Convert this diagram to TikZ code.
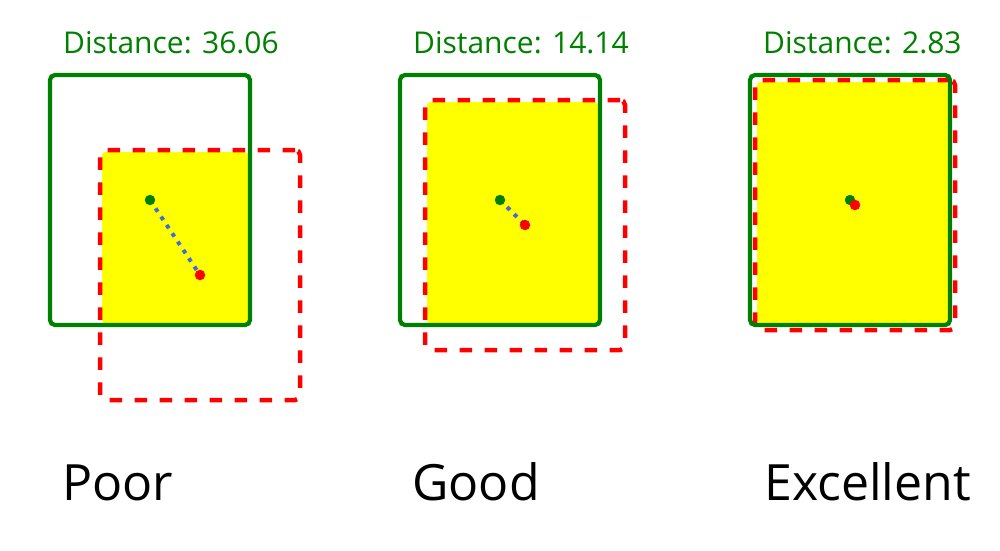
\documentclass[tikz,border=0pt]{standalone}
\usepackage{fontspec}
\setmainfont{Open Sans}
\definecolor{boxgreen}{HTML}{008000}
\definecolor{boxred}{HTML}{FF0000}
\definecolor{boxyellow}{HTML}{FFFF00}
\definecolor{lineblue}{HTML}{4169E1}
\begin{document}
\begin{tikzpicture}[x=1pt,y=-1pt,
  gbox/.style={draw=boxgreen, line width=4.2pt, rounded corners=5pt, minimum width=200pt, minimum height=250pt, inner sep=0pt, outer sep=0pt},
  rbox/.style={draw=boxred, line width=4.5pt, dash pattern=on 12.5pt off 12.5pt, rounded corners=5pt, minimum width=200pt, minimum height=250pt, inner sep=0pt, outer sep=0pt},
  yfill/.style={fill=boxyellow, rounded corners=3pt},
  gdot/.style={circle, fill=boxgreen, minimum size=10.5pt, inner sep=0pt},
  rdot/.style={circle, fill=boxred, minimum size=10.5pt, inner sep=0pt},
  blueline/.style={draw=lineblue, line width=4pt, dash pattern=on 4pt off 6pt},
  dlabel/.style={text=boxgreen, font=\fontsize{30}{36}\selectfont, anchor=base west, inner sep=0pt},
  qlabel/.style={text=black, font=\fontsize{50}{60}\selectfont, anchor=base west, inner sep=0pt}
]
\useasboundingbox (0,0) rectangle (1000,550);
\fill[white] (0,0) rectangle (1000,550);

% Panel 1
\fill[yfill] (102,152) rectangle (248,323);
\node[rbox] (r1) at (200,275) {};
\node[gbox] (g1) at (150,200) {};
\coordinate (c1g) at (150,200);
\coordinate (c1r) at (200,275);
\draw[blueline] (c1g) -- (c1r);
\node[gdot] (gd1) at (c1g) {};
\node[rdot] (rd1) at (c1r) {};
\node[dlabel] (d1) at (63,53) {Distance: 36.06};
\node[qlabel] (q1) at (62,500) {Poor};

% Panel 2
\fill[yfill] (427,102) rectangle (598,323);
\node[rbox] (r2) at (525,225) {};
\node[gbox] (g2) at (500,200) {};
\coordinate (c2g) at (500,200);
\coordinate (c2r) at (525,225);
\draw[blueline] (c2g) -- (c2r);
\node[gdot] (gd2) at (c2g) {};
\node[rdot] (rd2) at (c2r) {};
\node[dlabel] (d2) at (413,53) {Distance: 14.14};
\node[qlabel] (q2) at (412,500) {Good};

% Panel 3
\fill[yfill] (757,82) rectangle (948,323);
\node[rbox] (r3) at (855,205) {};
\node[gbox] (g3) at (850,200) {};
\coordinate (c3g) at (850,200);
\coordinate (c3r) at (855,205);
\draw[blueline] (c3g) -- (c3r);
\node[gdot] (gd3) at (c3g) {};
\node[rdot] (rd3) at (c3r) {};
\node[dlabel] (d3) at (763,53) {Distance: 2.83};
\node[qlabel] (q3) at (764,500) {Excellent};
\end{tikzpicture}
\end{document}
